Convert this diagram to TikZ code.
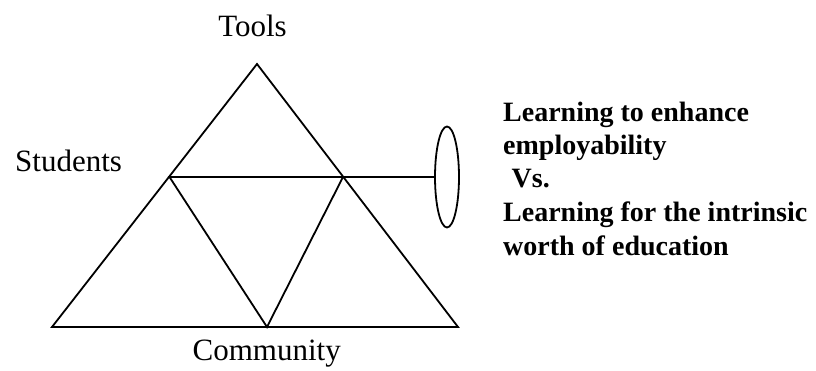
\documentclass[tikz,border=0pt]{standalone}
\usepackage{fontspec}
\setmainfont{Liberation Serif}[BoldFont={Liberation Serif Bold}]
\usetikzlibrary{shapes.geometric}
\begin{document}
\begin{tikzpicture}[x=1pt,y=-1pt,
  edge/.style={line width=1.8pt,line join=miter},
  lbl/.style={inner sep=0pt,font=\fontsize{31}{36}\selectfont},
  blbl/.style={inner sep=0pt,align=left,font=\fontsize{28}{33.5}\selectfont\bfseries}]
\useasboundingbox (0,0) rectangle (816,371);
\coordinate (A) at (257,64);
\coordinate (L) at (52,327);
\coordinate (R) at (458,327);
\coordinate (P) at (169.5,177);
\coordinate (Q) at (343,177);
\coordinate (M) at (267,327);
\draw[edge] (A) -- (L) -- (R) -- cycle;
\draw[edge] (P) -- (Q) -- (M) -- cycle;
\node[draw,ellipse,line width=1.8pt,minimum width=24pt,minimum height=101pt,inner sep=0pt] (E) at (447,177) {};
\draw[edge] (Q) -- (E.west);
\node[lbl,anchor=base] (tools) at (252.5,37) {Tools};
\node[lbl,anchor=base west] (students) at (15,172) {Students};
\node[lbl,anchor=base] (community) at (266.7,360) {Community};
\node[blbl,anchor=base west] (txt) at (503,255) {Learning to enhance\\employability\\\hspace{8.5pt}Vs.\\Learning for the intrinsic\\worth of education};
\end{tikzpicture}
\end{document}
